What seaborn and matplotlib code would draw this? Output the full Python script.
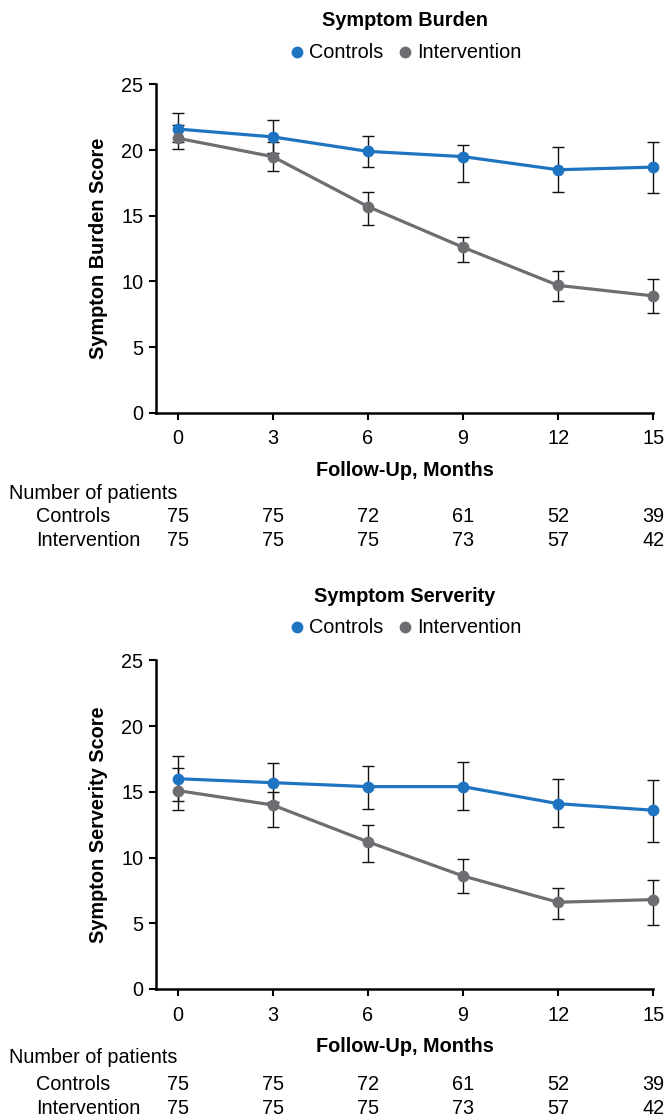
import pandas as pd
import numpy as np
import matplotlib
matplotlib.use('Agg')
import matplotlib.pyplot as plt
import matplotlib.transforms as mtransforms
import seaborn as sns

# values
months = [0, 3, 6, 9, 12, 15]
groups = ['Controls', 'Intervention']

burden_controls = [21.6, 21.0, 19.9, 19.5, 18.5, 18.7]
burden_controls_lo = [20.6, 19.8, 18.7, 17.6, 16.8, 16.7]
burden_controls_hi = [22.8, 22.3, 21.1, 20.4, 20.2, 20.6]
burden_interv = [20.9, 19.5, 15.7, 12.6, 9.7, 8.9]
burden_interv_lo = [20.1, 18.4, 14.3, 11.5, 8.5, 7.6]
burden_interv_hi = [21.9, 20.6, 16.8, 13.4, 10.8, 10.2]

severity_controls = [16.0, 15.7, 15.4, 15.4, 14.1, 13.6]
severity_controls_lo = [14.3, 14.2, 13.7, 13.6, 12.3, 11.2]
severity_controls_hi = [17.7, 17.2, 17.0, 17.3, 16.0, 15.9]
severity_interv = [15.1, 14.0, 11.2, 8.6, 6.6, 6.8]
severity_interv_lo = [13.6, 12.3, 9.7, 7.3, 5.3, 4.9]
severity_interv_hi = [16.8, 15.0, 12.5, 9.9, 7.7, 8.3]

n_controls = [75, 75, 72, 61, 52, 39]
n_interv = [75, 75, 75, 73, 57, 42]

colors = {'Controls': '#1f74c1', 'Intervention': '#6e6e72'}

sns.set_style('ticks')
plt.rcParams['font.family'] = ['Liberation Sans', 'DejaVu Sans']
plt.rcParams.update({'text.color': 'black', 'axes.labelcolor': 'black',
                     'xtick.color': 'black', 'ytick.color': 'black',
                     'axes.edgecolor': 'black'})
FS = 14.3

fig = plt.figure(figsize=(6.67, 11.2), dpi=100)


def make_panel(bottom, title, ylabel, ctrl, ctrl_lo, ctrl_hi, intv, intv_lo, intv_hi, y_title, y_leg, y_xlab, y_rows):
    ax = fig.add_axes([0.2334, bottom, 0.746, 0.2933])
    df = pd.DataFrame({
        'Month': months * 2,
        'Score': ctrl + intv,
        'Group': ['Controls'] * len(months) + ['Intervention'] * len(months),
    })
    # error bars underneath the lines
    for vals, lo, hi in [(ctrl, ctrl_lo, ctrl_hi), (intv, intv_lo, intv_hi)]:
        v = np.array(vals)
        err = [v - np.array(lo), np.array(hi) - v]
        eb = ax.errorbar(months, v, yerr=err, fmt='none', ecolor='#111111', elinewidth=1.0,
                         capsize=4, capthick=1.0, zorder=2)
        for art in eb.lines[1] + eb.lines[2]:
            art.set_clip_on(False)
    sns.lineplot(data=df, x='Month', y='Score', hue='Group', palette=colors,
                 marker='o', markersize=8.5, markeredgewidth=0, linewidth=2.3,
                 ax=ax, zorder=3)
    for ln in ax.lines:
        ln.set_clip_on(False)

    ax.set_xlim(-0.69, 15)
    ax.set_ylim(0, 25)
    ax.set_xticks(months)
    ax.set_yticks([0, 5, 10, 15, 20, 25])
    ax.tick_params(length=5, width=1.5, labelsize=FS, pad=4)
    ax.tick_params(axis='x', pad=7)
    for s in ['top', 'right']:
        ax.spines[s].set_visible(False)
    for s in ['left', 'bottom']:
        ax.spines[s].set_linewidth(1.8)
    ax.set_xlabel('')
    ax.set_ylabel(ylabel, fontsize=FS, fontweight='bold')
    ax.yaxis.set_label_coords(0.1474, 0.5,
                              transform=mtransforms.blended_transform_factory(fig.transFigure, ax.transAxes))
    ax.yaxis.label.set_verticalalignment('center')

    handles, labels = ax.get_legend_handles_labels()
    for h in handles:
        h.set_linestyle('none')
    ax.legend(handles, labels, loc='center', bbox_to_anchor=(0.6065, y_leg),
              bbox_transform=fig.transFigure, ncol=2, frameon=False, fontsize=FS,
              handletextpad=0.1, columnspacing=0.6, handlelength=1.0)

    fig.text(0.6065, y_title, title, ha='center', va='center', fontsize=FS, fontweight='bold')
    fig.text(0.6065, y_xlab, 'Follow-Up, Months', ha='center', va='center', fontsize=FS, fontweight='bold')

    # number-at-risk table
    fig.text(0.014, y_rows[0], 'Number of patients', ha='left', va='center', fontsize=FS)
    fig.text(0.054, y_rows[1], 'Controls', ha='left', va='center', fontsize=FS)
    fig.text(0.054, y_rows[2], 'Intervention', ha='left', va='center', fontsize=FS)
    trans = mtransforms.blended_transform_factory(ax.transData, fig.transFigure)
    for m, a, b in zip(months, n_controls, n_interv):
        ax.text(m, y_rows[1], str(a), transform=trans, ha='center', va='center', fontsize=FS, clip_on=False)
        ax.text(m, y_rows[2], str(b), transform=trans, ha='center', va='center', fontsize=FS, clip_on=False)
    return ax


make_panel(0.6314, 'Symptom Burden', 'Sympton Burden Score',
           burden_controls, burden_controls_lo, burden_controls_hi,
           burden_interv, burden_interv_lo, burden_interv_hi,
           0.9819, 0.9527, 0.5795, [0.5598, 0.5384, 0.5170])

make_panel(0.117, 'Symptom Serverity', 'Sympton Serverity Score',
           severity_controls, severity_controls_lo, severity_controls_hi,
           severity_interv, severity_interv_lo, severity_interv_hi,
           0.4672, 0.4393, 0.066, [0.0554, 0.0321, 0.0107])

fig.savefig('out.png', dpi=100)
